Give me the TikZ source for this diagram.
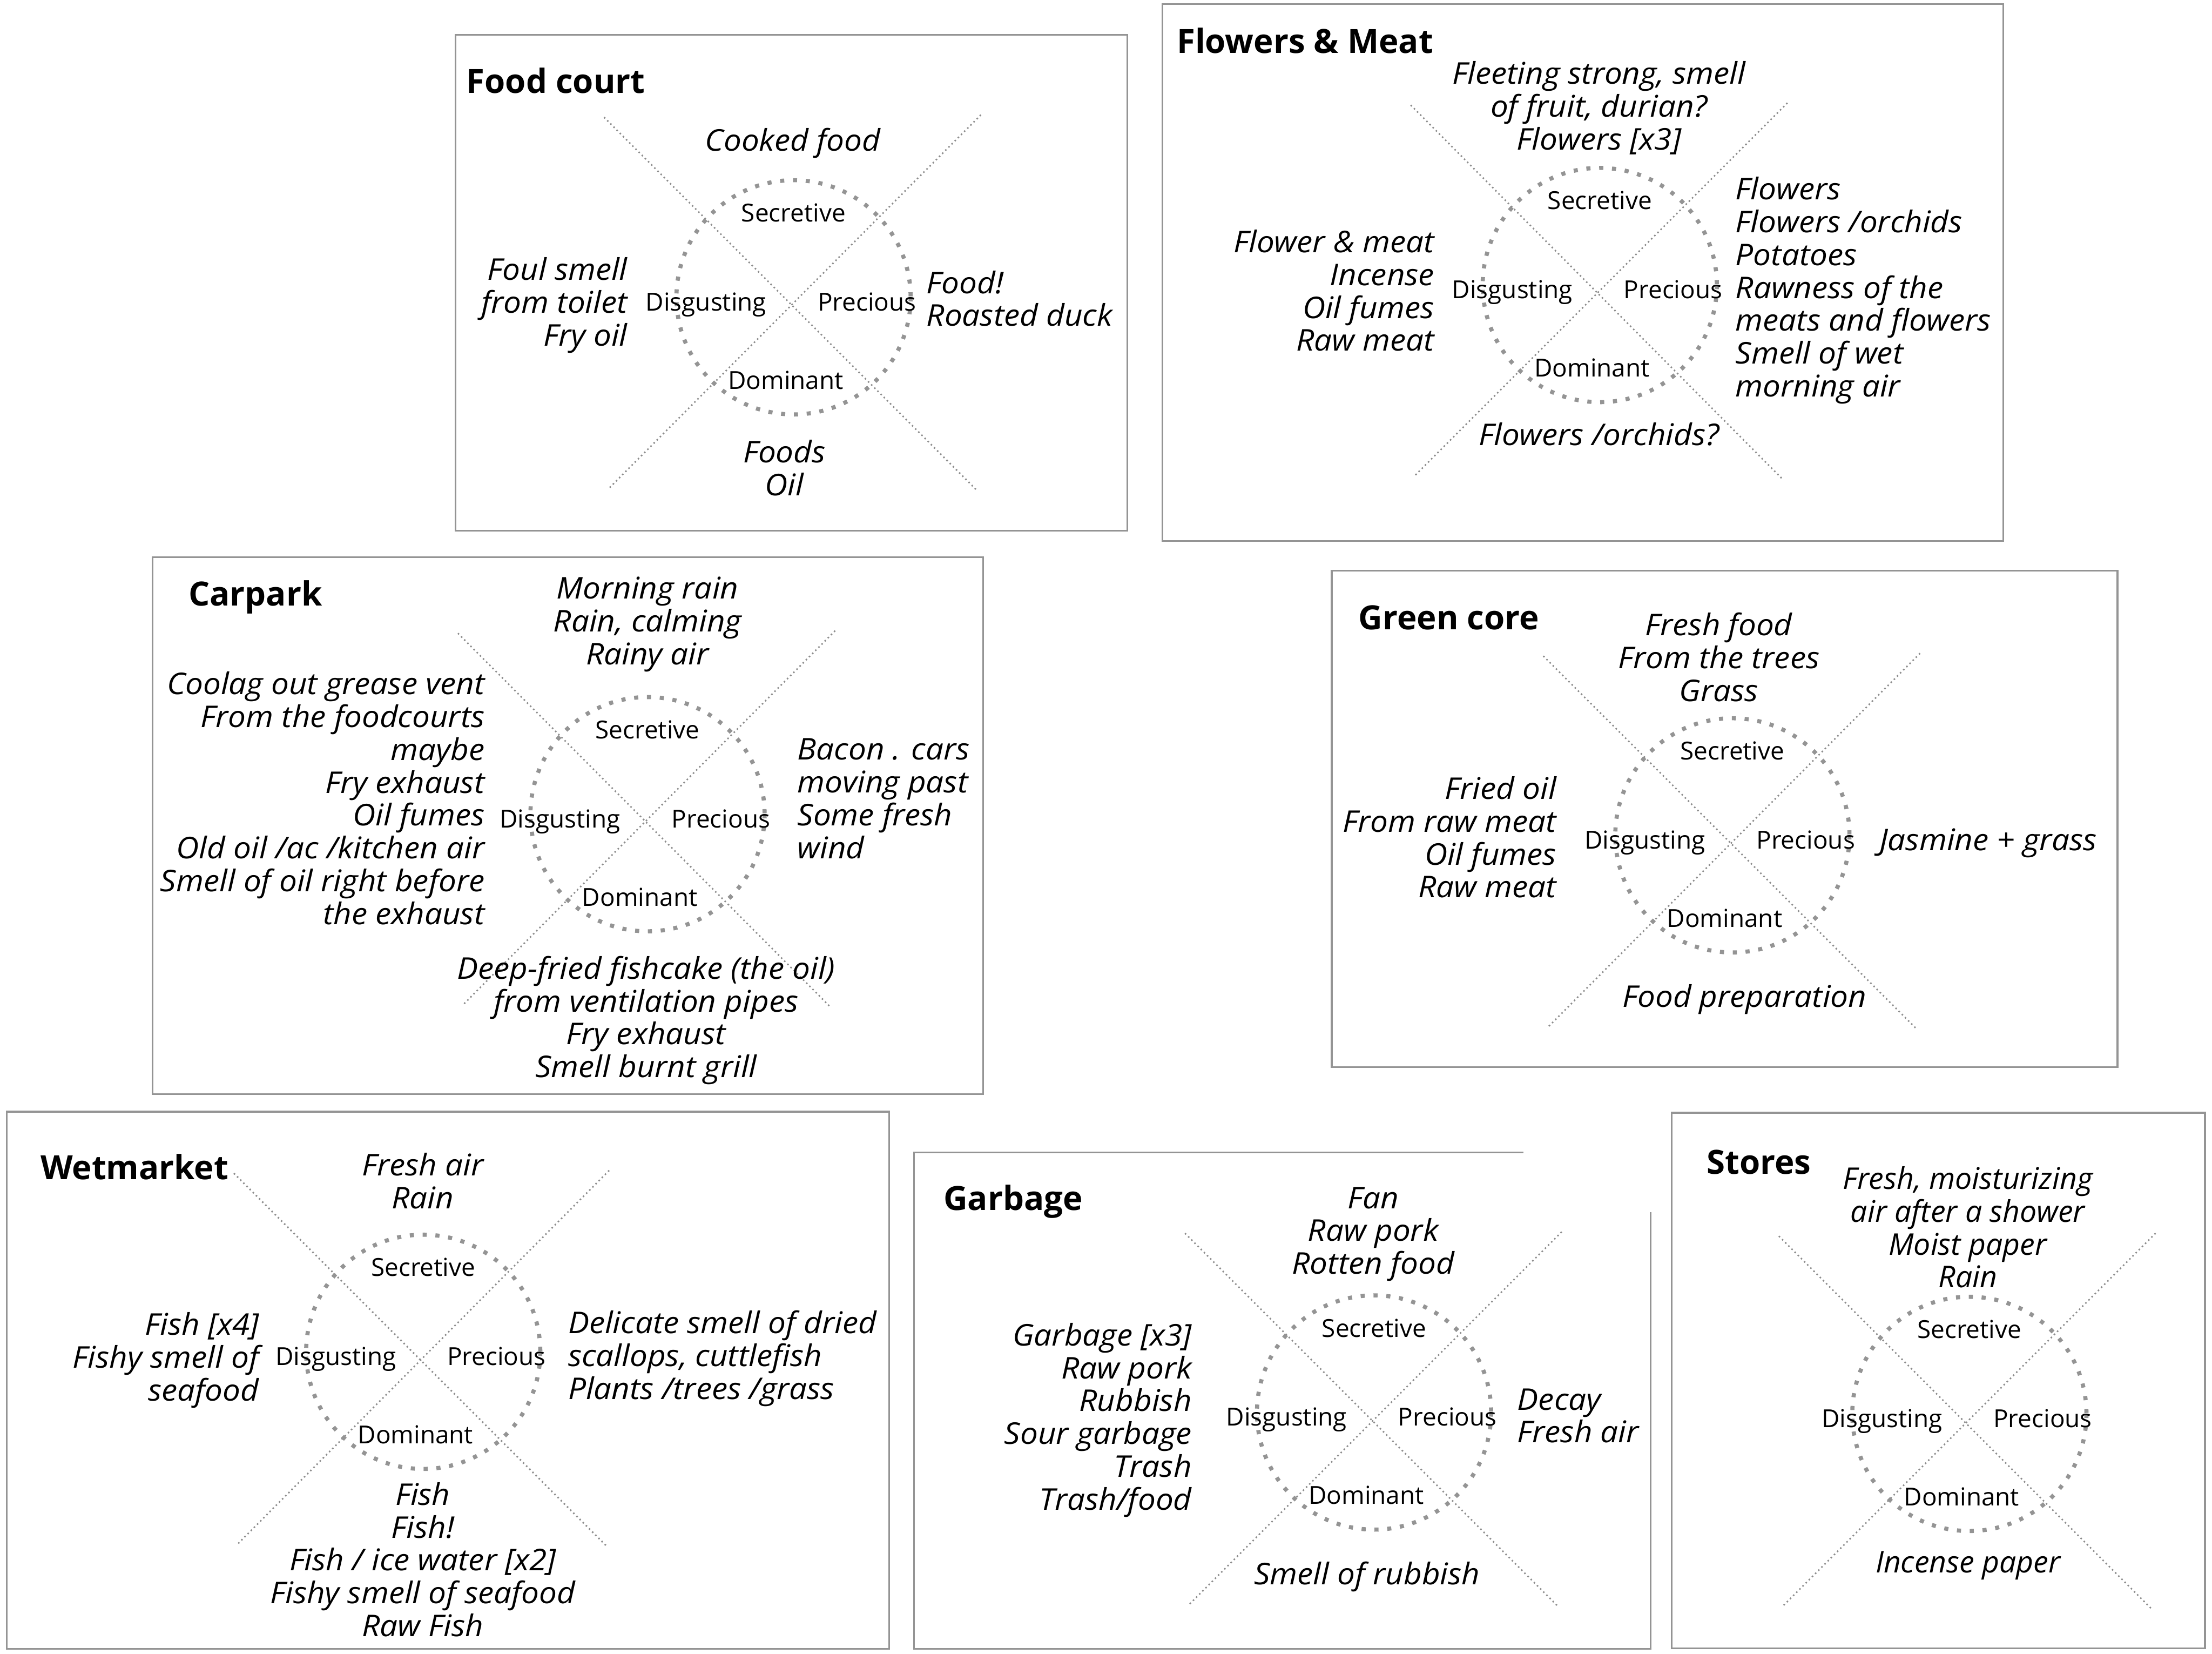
\documentclass[tikz,border=0pt]{standalone}
\usepackage{fontspec}
\setmainfont{Open Sans}
\newfontfamily\wideit{Open Sans}[FakeStretch=1.055]
\definecolor{boxgray}{rgb}{0.58,0.58,0.58}
\definecolor{dotgray}{rgb}{0.55,0.55,0.55}
\definecolor{ringgray}{rgb}{0.58,0.58,0.58}
\newcommand\itemfnt{\wideit\itshape\fontsize{17.5}{19.2}\selectfont}
\newcommand\storefnt{\itshape\fontsize{17.5}{19.2}\selectfont}
\newcommand\Lr[1]{\begin{tabular}[t]{@{}r@{}}#1\end{tabular}}
\newcommand\Ll[1]{\begin{tabular}[t]{@{}l@{}}#1\end{tabular}}
\newcommand\Lc[1]{\begin{tabular}[t]{@{}c@{}}#1\end{tabular}}
\tikzset{
  panel/.style={draw=boxgray, line width=1pt},
  diag/.style={draw=dotgray, line width=0.9pt, dash pattern=on 0.9pt off 1.7pt},
  ring/.style={draw=ringgray, line width=2.4pt, dash pattern=on 2.4pt off 5.1pt},
  lbl/.style={font=\fontsize{14.5}{17}\selectfont, inner sep=0pt, anchor=base},
  itm/.style={font=\itemfnt, inner sep=0pt},
  stitm/.style={font=\storefnt, inner sep=0pt},
  ttl/.style={font=\bfseries\fontsize{19.5}{22}\selectfont, anchor=base west, inner sep=0pt}
}
\newcommand\chart[3]{%
  \draw[ring] (#2,#3) circle[radius=83];
  \node[lbl] (#1S) at ({#2},{#3-53.5}) {Secretive};
  \node[lbl] (#1D) at ({#2-62},{#3+9.5}) {Disgusting};
  \node[lbl] (#1P) at ({#2+52},{#3+9.5}) {Precious};
  \node[lbl] (#1M) at ({#2-5.5},{#3+65}) {Dominant};
}
\begin{document}
\begin{tikzpicture}[x=0.029cm, y=-0.029cm]
\useasboundingbox (0,0) rectangle (1568,1172);

% ---------------- Food court
\draw[panel] (323,24.7) rectangle (799,376);
\node[ttl] (fcT) at (330.4,66.2) {Food court};
\coordinate (fcA) at (428.2,83.1); \coordinate (fcB) at (692.7,347.7);
\coordinate (fcC) at (695.3,81.4); \coordinate (fcD) at (431.3,346.4);
\draw[diag] (fcA) -- (fcB); \draw[diag] (fcC) -- (fcD);
\chart{fc}{562.5}{210.7}
\node[itm, anchor=base] (fcU) at (562,106.9) {\Lc{Cooked food}};
\node[itm, anchor=base east] (fcL) at (445,198.5) {\Lr{Foul smell\\from toilet\\Fry oil}};
\node[itm, anchor=base west] (fcR) at (656.5,207.9) {\Ll{Food!\\Roasted duck}};
\node[itm, anchor=base] (fcW) at (556,328) {\Lc{Foods\\Oil}};

% ---------------- Flowers & Meat
\draw[panel] (824,3) rectangle (1420,383.5);
\node[ttl] (fmT) at (834,37.8) {Flowers \& Meat};
\coordinate (fmA) at (1000,74.5); \coordinate (fmB) at (1263,339);
\coordinate (fmC) at (1267,73); \coordinate (fmD) at (1002,338);
\draw[diag] (fmA) -- (fmB); \draw[diag] (fmC) -- (fmD);
\chart{fm}{1134}{202}
\node[itm, anchor=base] (fmU) at (1133.5,59.6) {\Lc{Fleeting strong, smell\\of fruit, durian?\\Flowers [x3]}};
\node[itm, anchor=base east] (fmL) at (1017,179) {\Lr{Flower \& meat\\Incense\\Oil fumes\\Raw meat}};
\node[itm, anchor=base west] (fmR) at (1230,141.6) {\Ll{Flowers\\Flowers /orchids\\Potatoes\\Rawness of the\\meats and flowers\\Smell of wet\\morning air}};
\node[itm, anchor=base] (fmW) at (1133.5,315.5) {\Lc{Flowers /orchids?}};

% ---------------- Carpark
\draw[panel] (108,395) rectangle (697,775.5);
\node[ttl] (cpT) at (133.4,429.4) {Carpark};
\coordinate (cpA) at (324.6,448.8); \coordinate (cpB) at (588,713);
\coordinate (cpC) at (592,447); \coordinate (cpD) at (328.4,711.9);
\draw[diag] (cpA) -- (cpB); \draw[diag] (cpC) -- (cpD);
\chart{cp}{459}{577}
\node[itm, anchor=base] (cpU) at (459,424.5) {\Lc{Morning rain\\Rain, calming\\Rainy air}};
\node[itm, anchor=base east] (cpL) at (343.8,492.2) {\Lr{Coolag out grease vent\\From the foodcourts\\maybe\\Fry exhaust\\Oil fumes\\Old oil /ac /kitchen air\\Smell of oil right before\\the exhaust}};
\node[itm, anchor=base west] (cpR) at (565,538.5) {\Ll{Bacon . cars\\moving past\\Some fresh\\wind}};
\node[itm, anchor=base] (cpW) at (458,693.8) {\Lc{Deep-fried fishcake (the oil)\\from ventilation pipes\\Fry exhaust\\Smell burnt grill}};

% ---------------- Green core
\draw[panel] (944,404.4) rectangle (1501,756.3);
\node[ttl] (gcT) at (962.8,446) {Green core};
\coordinate (gcA) at (1094,464.9); \coordinate (gcB) at (1358,728.6);
\coordinate (gcC) at (1361,463); \coordinate (gcD) at (1097.6,727.6);
\draw[diag] (gcA) -- (gcB); \draw[diag] (gcC) -- (gcD);
\chart{gc}{1228}{592}
\node[itm, anchor=base] (gcU) at (1218.4,450.5) {\Lc{Fresh food\\From the trees\\Grass}};
\node[itm, anchor=base east] (gcL) at (1103.5,566.4) {\Lr{Fried oil\\From raw meat\\Oil fumes\\Raw meat}};
\node[itm, anchor=base west] (gcR) at (1332,602.8) {\Ll{Jasmine + grass}};
\node[itm, anchor=base] (gcW) at (1236.6,713.6) {\Lc{Food preparation}};

% ---------------- Wetmarket
\draw[panel] (4.9,787.8) rectangle (630.3,1168.5);
\node[ttl] (wmT) at (28.5,835.7) {Wetmarket};
\coordinate (wmA) at (165.8,831.5); \coordinate (wmB) at (430,1095.7);
\coordinate (wmC) at (431.8,829.5); \coordinate (wmD) at (168.7,1094);
\draw[diag] (wmA) -- (wmB); \draw[diag] (wmC) -- (wmD);
\chart{wm}{300}{958}
\node[itm, anchor=base] (wmU) at (299.7,833.2) {\Lc{Fresh air\\Rain}};
\node[itm, anchor=base east] (wmL) at (183.8,946.2) {\Lr{Fish [x4]\\Fishy smell of\\seafood}};
\node[itm, anchor=base west] (wmR) at (402.5,945) {\Ll{Delicate smell of dried\\scallops, cuttlefish\\Plants /trees /grass}};
\node[itm, anchor=base] (wmW) at (299.7,1066.6) {\Lc{Fish\\Fish!\\Fish / ice water [x2]\\Fishy smell of seafood\\Raw Fish}};

% ---------------- Garbage
\draw[panel] (1080,816.6) -- (648,816.6) -- (648,1168.4) -- (1170,1168.4) -- (1170,859);
\node[ttl] (gbT) at (668.6,857.6) {Garbage};
\coordinate (gbA) at (840,874); \coordinate (gbB) at (1104,1138);
\coordinate (gbC) at (1107,873); \coordinate (gbD) at (843,1137);
\draw[diag] (gbA) -- (gbB); \draw[diag] (gbC) -- (gbD);
\chart{gb}{974}{1001}
\node[itm, anchor=base] (gbU) at (973.4,856.4) {\Lc{Fan\\Raw pork\\Rotten food}};
\node[itm, anchor=base east] (gbL) at (845,953.7) {\Lr{Garbage [x3]\\Raw pork\\Rubbish\\Sour garbage\\Trash\\Trash/food}};
\node[itm, anchor=base west] (gbR) at (1075.4,999.2) {\Ll{Decay\\Fresh air}};
\node[itm, anchor=base] (gbW) at (969,1123) {\Lc{Smell of rubbish}};

% ---------------- Stores
\draw[panel] (1185,788.6) rectangle (1563,1168);
\node[ttl] (stT) at (1209.7,832) {Stores};
\coordinate (stA) at (1261,876); \coordinate (stB) at (1525,1140);
\coordinate (stC) at (1528,874); \coordinate (stD) at (1264,1138);
\draw[diag] (stA) -- (stB); \draw[diag] (stC) -- (stD);
\chart{st}{1396}{1002}
\node[stitm, anchor=base] (stU) at (1394.9,842.8) {\Lc{Fresh, moisturizing\\air after a shower\\Moist paper\\Rain}};
\node[stitm, anchor=base] (stW) at (1395,1114.6) {\Lc{Incense paper}};
\end{tikzpicture}
\end{document}
